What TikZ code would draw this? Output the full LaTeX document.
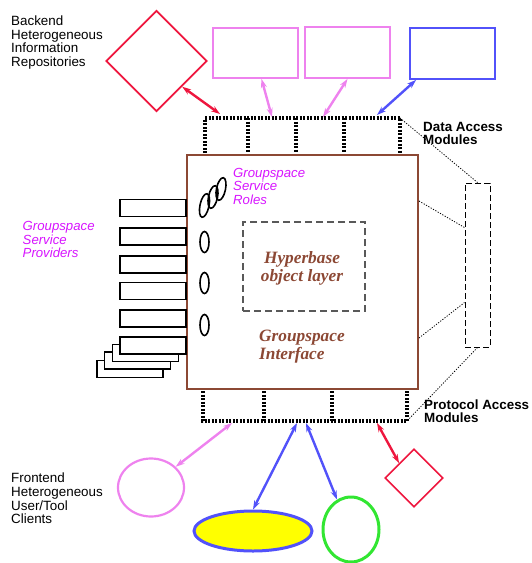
\documentclass[tikz,border=0pt]{standalone}
\usepackage{fontspec}
\setmainfont{Liberation Sans}
\newfontfamily\tmsfont{Liberation Serif}
\usetikzlibrary{arrows.meta,shapes.geometric,calc}
\definecolor{cred}{RGB}{238,22,62}
\definecolor{cviolet}{RGB}{238,130,238}
\definecolor{cblue}{RGB}{82,82,250}
\definecolor{cbrown}{RGB}{140,72,52}
\definecolor{cmag}{RGB}{215,20,255}
\definecolor{cgreen}{RGB}{50,230,50}
\definecolor{cyel}{RGB}{255,255,0}
\tikzset{
  lbl/.style={inner sep=0pt,anchor=north west,align=left,font=\fontsize{13.4}{13.6}\selectfont},
  blbl/.style={inner sep=0pt,anchor=north west,align=left,font=\fontsize{13.4}{13}\selectfont\bfseries},
  mlbl/.style={inner sep=0pt,anchor=north west,align=left,text=cmag,font=\fontsize{13.2}{13.4}\selectfont\itshape},
  serlbl/.style={inner sep=0pt,align=left,text=cbrown,font=\fontsize{17.3}{18}\tmsfont\bfseries\itshape},
  repobox/.style={draw,rectangle,line width=1.8pt,inner sep=0pt,minimum width=85pt,minimum height=50pt},
  dmod/.style={line width=3.4pt,dash pattern=on 2pt off 1.5pt},
  thindot/.style={line width=0.8pt,dash pattern=on 1.2pt off 1.5pt},
  dbl/.style={{Stealth[length=9pt,width=6pt]}-{Stealth[length=9pt,width=6pt]},line width=2.4pt,shorten <=0pt,shorten >=0pt},
  prov/.style={draw,rectangle,line width=1.6pt,fill=white,inner sep=0pt,minimum width=66pt,minimum height=17pt},
  role/.style={draw,ellipse,line width=1.6pt,inner sep=0pt,minimum width=9pt,minimum height=21pt},
}
\begin{document}
\begin{tikzpicture}[x=1pt,y=-1pt]
\useasboundingbox (0,0) rectangle (531,563);

% texts
\node[lbl] (backtxt) at (11,15.5) {Backend\\Heterogeneous\\Information\\Repositories};
\node[lbl] (fronttxt) at (11,473) {Frontend\\Heterogeneous\\User/Tool\\Clients};
\node[blbl] (datxt) at (423,122.5) {Data Access\\Modules};
\node[blbl] (patxt) at (424,399.5) {Protocol Access\\Modules};
\node[mlbl] (rolestxt) at (233,168) {Groupspace\\Service\\Roles};
\node[mlbl] (provtxt) at (22.5,221.5) {Groupspace\\Service\\Providers};

% backend repositories
\node[draw=cred,diamond,aspect=1,line width=1.8pt,inner sep=0pt,minimum width=101pt,minimum height=101pt] (repo1) at (156.5,61) {};
\node[repobox,draw=cviolet] (repo2) at (255.5,53) {};
\node[repobox,draw=cviolet,minimum height=51pt] (repo3) at (347.5,52.5) {};
\node[repobox,draw=cblue,minimum height=51pt] (repo4) at (452.5,53.5) {};

% groupspace interface box
\node[draw=cbrown,rectangle,line width=2pt,inner sep=0pt,minimum width=231pt,minimum height=234pt] (gsi) at (302.5,272) {};
\node[draw=black!65,dash pattern=on 7pt off 4pt,line width=1.1pt,rectangle,inner sep=0pt,minimum width=122pt,minimum height=89pt] (hbl) at (304,266.5) {};
\node[serlbl,align=center] (hbtxt) at (302,268) {Hyperbase\\object layer};
\node[serlbl,anchor=west] (gsitxt) at (259,346.5) {Groupspace\\Interface};

% data access modules
\coordinate (da1) at (205,118);
\coordinate (da5) at (400,118);
\draw[dmod] (205,153) -- (da1) -- (da5) -- (400,153);
\foreach \x in {248,296,344} \draw[dmod] (\x,118) -- (\x,153);

% protocol access modules
\coordinate (pa1) at (203,421);
\coordinate (pa4) at (407,421);
\draw[dmod] (203,391) -- (pa1) -- (pa4) -- (407,391);
\foreach \x in {264,332} \draw[dmod] (\x,391) -- (\x,421);

% module detail
\node[draw,dash pattern=on 6pt off 3pt,line width=1pt,rectangle,inner sep=0pt,minimum width=25pt,minimum height=164pt] (modr) at (477.5,265) {};
\coordinate (g1) at ($(gsi.north east)+(0,47)$);
\coordinate (m1) at ($(modr.north west)+(0,45)$);
\coordinate (g2) at ($(gsi.south east)+(0,-52)$);
\coordinate (m2) at ($(modr.south west)+(0,-45)$);
\draw[thindot] (da5) -- (modr.north);
\draw[thindot] (g1) -- (m1);
\draw[thindot] (g2) -- (m2);
\draw[thindot] (modr.south) -- (pa4);

% arrows backend
\coordinate (t1) at (220,114);
\coordinate (t2) at (272,117);
\coordinate (t3) at (323,117);
\coordinate (t4) at (377,115);
\draw[dbl,cred] (repo1.south east) -- (t1);
\draw[dbl,cviolet] ([xshift=6pt]repo2.south) -- (t2);
\draw[dbl,cviolet] (repo3.south) -- (t3);
\draw[dbl,cblue] ([xshift=7pt]repo4.south west) -- (t4);

% providers
\node[prov] (pb3) at (130,369) {};
\node[prov] (pb2) at (137.5,360.5) {};
\node[prov] (pb1) at (145.5,353) {};
\node[prov] (p6) at (153,345.5) {};
\node[prov] (p5) at (153,318.5) {};
\node[prov] (p4) at (153,291) {};
\node[prov] (p3) at (153,264.5) {};
\node[prov] (p2) at (153,236.5) {};
\node[prov] (p1) at (153,208) {};

% roles
\node[role,rotate=-12,minimum height=23pt] (r3) at (221,189) {};
\node[role,rotate=-12,minimum height=23pt] (r2) at (213,197) {};
\node[role,rotate=-12,minimum height=24pt] (r1) at (204.5,205.5) {};
\node[role] (r4) at (204.5,242) {};
\node[role] (r5) at (204.5,283) {};
\node[role] (r6) at (204.5,325) {};

% frontend clients
\node[draw=cviolet,ellipse,line width=2.2pt,inner sep=0pt,minimum width=66pt,minimum height=58pt] (fe1) at (151,487.5) {};
\node[draw=cblue,fill=cyel,ellipse,line width=3pt,inner sep=0pt,minimum width=118pt,minimum height=40pt] (fe2) at (253,531) {};
\node[draw=cgreen,ellipse,line width=3pt,inner sep=0pt,minimum width=56pt,minimum height=65pt] (fe3) at (351,529.5) {};
\node[draw=cred,diamond,aspect=1,line width=1.6pt,inner sep=0pt,minimum width=58pt,minimum height=58pt] (fe4) at (414,478) {};

\coordinate (b1) at (232,423);
\coordinate (b2) at (297,423);
\coordinate (b3) at (306,423);
\coordinate (b4) at (377,423);
\draw[dbl,cviolet] (b1) -- (fe1.40);
\draw[dbl,cblue] (b2) -- (fe2.north);
\draw[dbl,cblue] (b3) -- (fe3.115);
\draw[dbl,cred] (b4) -- (fe4.north west);
\end{tikzpicture}
\end{document}
